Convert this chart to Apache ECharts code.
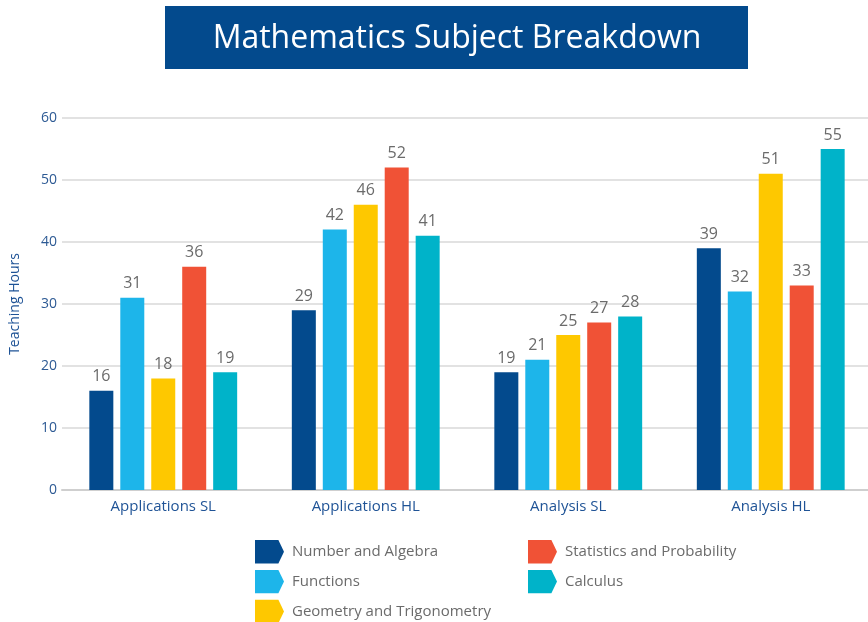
<!DOCTYPE html>
<html>
<head>
<meta charset="utf-8">
<script src="https://cdn.jsdelivr.net/npm/echarts@6/dist/echarts.min.js"></script>
<style>
  html, body { margin: 0; padding: 0; background: #fff; }
  #chart { width: 868px; height: 622px; }
</style>
</head>
<body>
<div id="chart"></div>
<script>
const courses = ["Applications SL", "Applications HL", "Analysis SL", "Analysis HL"];
const topics = [
  "Number and Algebra",
  "Functions",
  "Geometry and Trigonometry",
  "Statistics and Probability",
  "Calculus"
];
const numberAlgebra = [16, 29, 19, 39];
const functionsHrs = [31, 42, 21, 32];
const geometryTrig = [18, 46, 25, 51];
const statsProb = [36, 52, 27, 33];
const calculus = [19, 41, 28, 55];
const yTicks = [0, 10, 20, 30, 40, 50, 60];

const colors = ["#034a8d", "#1db5ea", "#fec800", "#f05236", "#00b3c9"];
const seriesValues = [numberAlgebra, functionsHrs, geometryTrig, statsProb, calculus];
const font = "'Open Sans', sans-serif";
// rectangle with a little arrow on its right edge, like the legend keys
const keyIcon = "path://M0,0 L25,0 L31,12.5 L25,25 L0,25 Z";

let myChart = echarts.init(document.getElementById("chart"));

let series = topics.map(function (name, i) {
  return {
    name: name,
    type: "bar",
    data: seriesValues[i],
    barWidth: 24,
    barGap: "29%",
    itemStyle: { color: colors[i] },
    label: {
      show: true,
      position: "top",
      distance: 6,
      color: "#6b6b6b",
      fontSize: 16,
      fontFamily: font
    }
  };
});

function legendBlock(names, left) {
  return {
    data: names,
    orient: "vertical",
    left: left,
    top: 535,
    height: 120,
    itemWidth: 29,
    itemHeight: 24,
    itemGap: 6.5,
    icon: keyIcon,
    textStyle: { color: "#6b6b6b", fontSize: 15, fontFamily: font, padding: [0, 0, 0, 3] }
  };
}

let option = {
  animation: false,
  backgroundColor: "#fff",
  graphic: [
    {
      type: "rect",
      shape: { x: 165, y: 6, width: 583, height: 63 },
      style: { fill: "#034a8d" }
    },
    {
      type: "text",
      x: 457,
      y: 39,
      style: {
        text: "Mathematics Subject Breakdown",
        fill: "#fff",
        font: "32px 'Open Sans', sans-serif",
        align: "center",
        verticalAlign: "middle"
      }
    }
  ],
  legend: [
    legendBlock(topics.slice(0, 3), 250),
    legendBlock(topics.slice(3), 523)
  ],
  grid: {
    left: 62,
    right: -4,
    top: 118,
    bottom: 132,
    containLabel: false,
    outerBoundsMode: "none"
  },
  xAxis: {
    type: "category",
    data: courses,
    axisLine: { lineStyle: { color: "#cfcfcf", width: 2 } },
    axisTick: { show: false },
    axisLabel: { color: "#1f5396", fontSize: 15, fontFamily: font, margin: 9 }
  },
  yAxis: {
    type: "value",
    min: yTicks[0],
    max: yTicks[yTicks.length - 1],
    interval: 10,
    name: "Teaching Hours",
    nameLocation: "middle",
    nameGap: 40,
    nameTextStyle: { color: "#1f5396", fontSize: 14, fontFamily: font },
    axisLine: { show: false },
    axisTick: { show: false },
    axisLabel: { color: "#2d5a94", fontSize: 14, fontFamily: font, margin: 5 },
    splitLine: { lineStyle: { color: "#d8d8d8", width: 1.5 } }
  },
  series: series
};

myChart.setOption(option);
window.addEventListener("resize", myChart.resize);
</script>
</body>
</html>
